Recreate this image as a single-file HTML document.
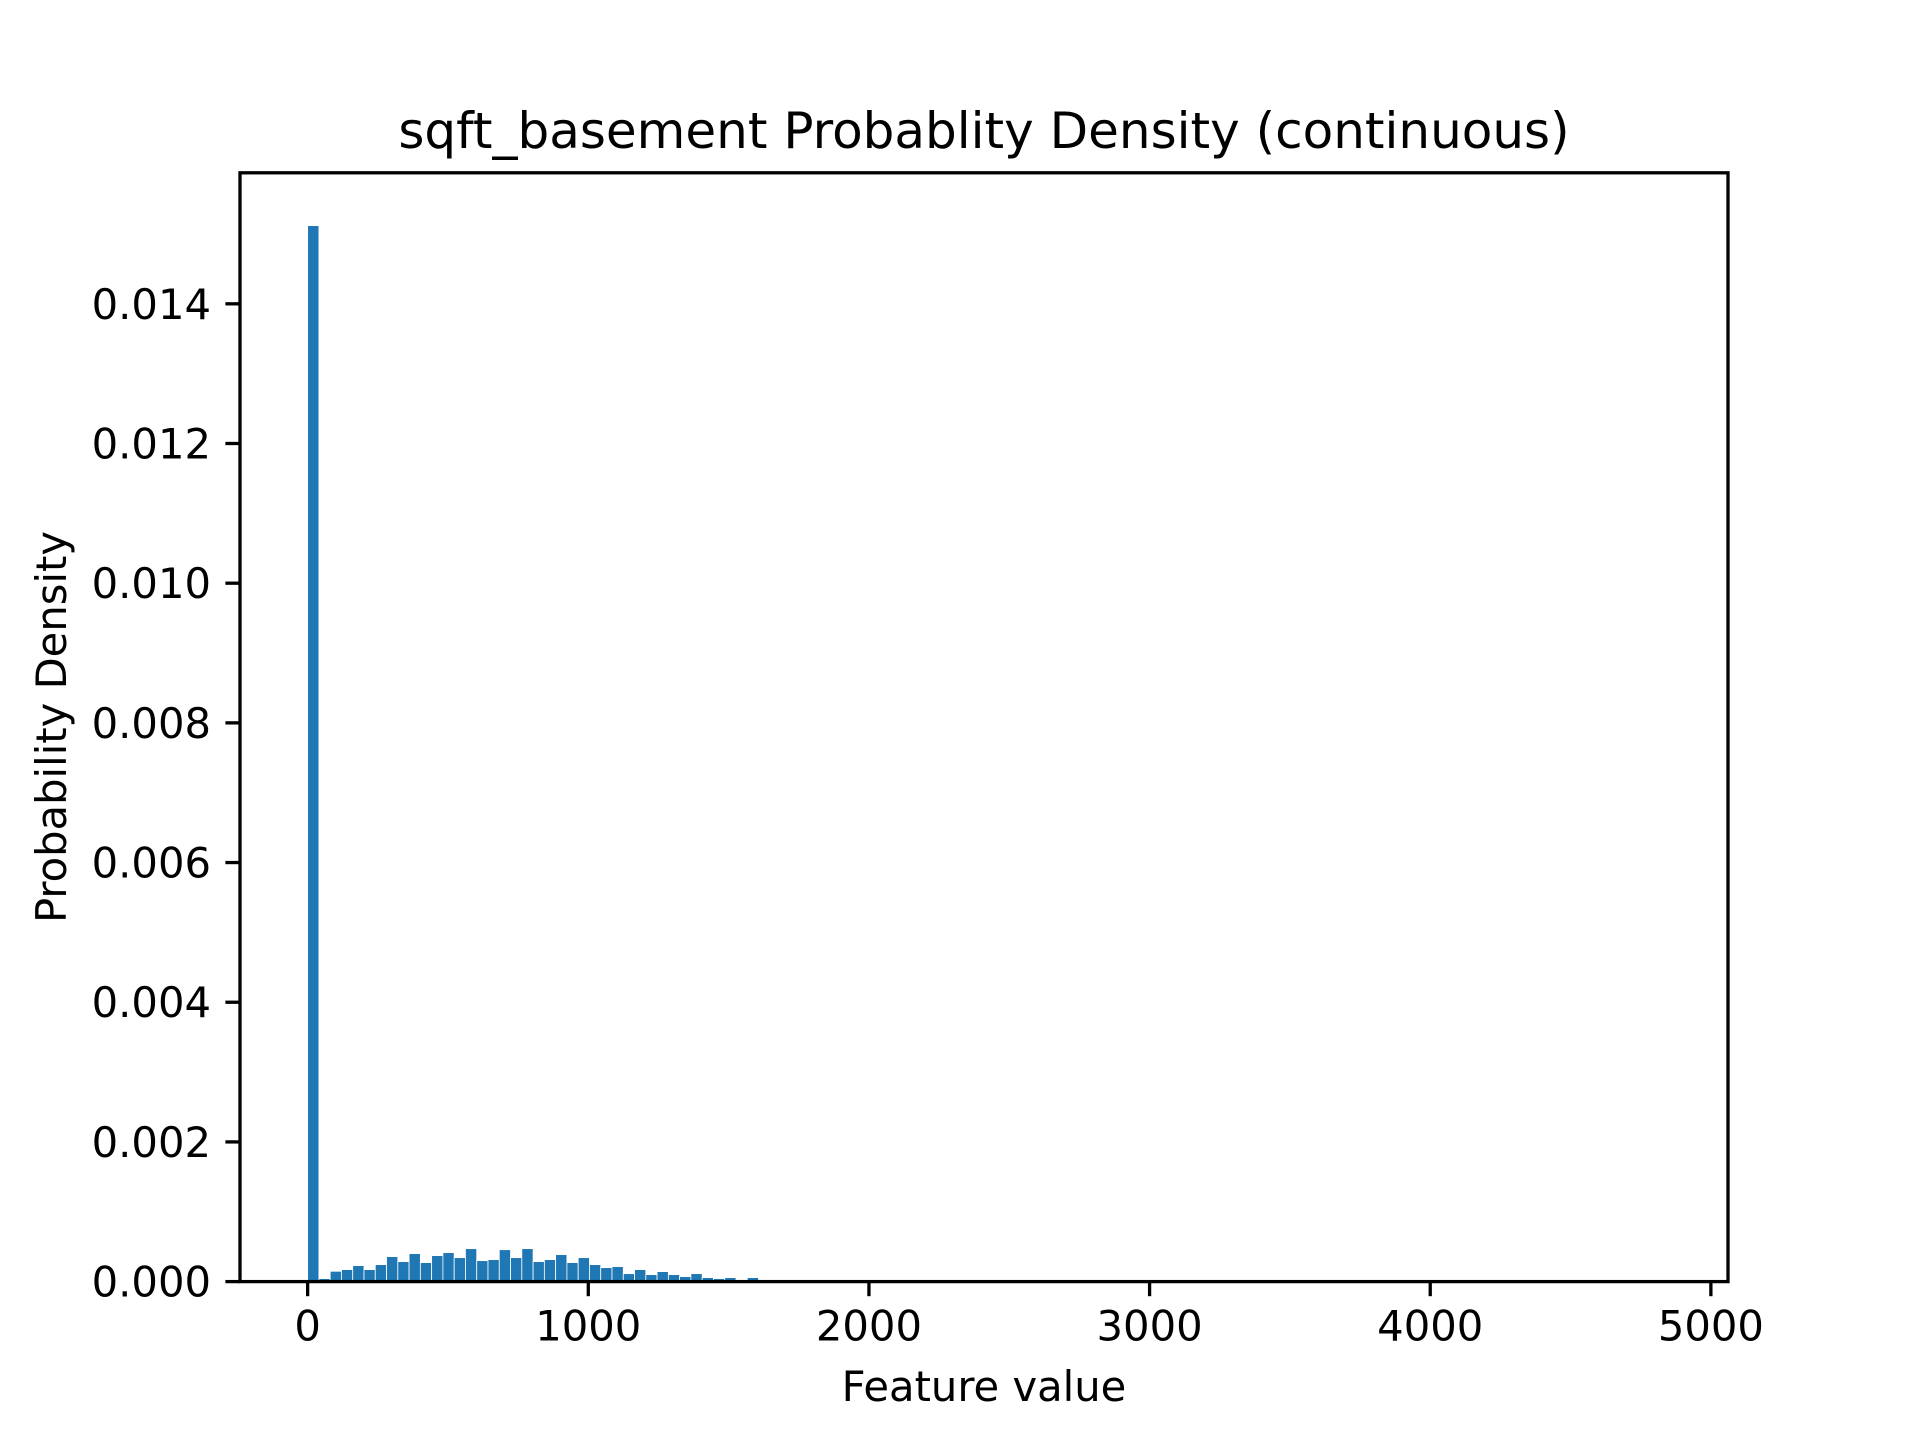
<!DOCTYPE html>
<html><head><meta charset="utf-8"><style>
html,body{margin:0;padding:0;background:#fff;}
svg text{font-family:"DejaVu Sans","Liberation Sans",sans-serif;fill:#000;}
</style></head><body>
<svg id="chart" width="1920" height="1440" viewBox="0 0 1920 1440" xmlns="http://www.w3.org/2000/svg">
<rect width="1920" height="1440" fill="#fff"/>
<text x="984" y="148" font-size="50" text-anchor="middle">sqft_basement Probablity Density (continuous)</text>
<g id="bars"></g>
<g id="axes"></g>
<text x="984" y="1401" font-size="41.7" text-anchor="middle">Feature value</text>
<text x="0" y="0" font-size="41.7" text-anchor="middle" transform="translate(66,727) rotate(-90)">Probability Density</text>
</svg>
<script>
const binStart = 0;
const binWidth = 40.1667;
const densities = [0.01512,0.000043,0.000148,0.000172,0.000229,0.000172,0.000243,0.000358,0.000286,0.000401,
0.000272,0.000372,0.000415,0.000343,0.000472,0.0003,0.000315,0.000457,0.000343,0.000472,
0.000286,0.000315,0.000387,0.000272,0.000343,0.000243,0.0002,0.000215,0.000114,0.000172,
0.0001,0.000143,0.0001,0.000072,0.000114,0.000057,0.000043,0.000057,0.000029,0.000057,
0.000014,0.000029,0.000029,0.000014,0.000029,0.000007,0.000014,0.000007,0.000003,0.000007,
0.000003,0,0.000003,0,0,0.000003,0,0,0,0.000003,
0,0,0,0,0,0,0,0,0,0,
0,0,0,0,0,0,0,0,0,0,
0,0,0,0,0,0,0,0,0,0,
0,0,0,0,0,0,0,0,0,0,
0,0,0,0,0,0,0,0,0,0,
0,0,0,0,0,0,0,0,0,0.000003];
const xTicks = [0,1000,2000,3000,4000,5000];
const xTickLabels = ["0","1000","2000","3000","4000","5000"];
const yTicks = [0,0.002,0.004,0.006,0.008,0.010,0.012,0.014];
const yTickLabels = ["0.000","0.002","0.004","0.006","0.008","0.010","0.012","0.014"];

const L=240,R=1728,T=172.8,B=1281.6;
const dataMax = binStart + binWidth*densities.length;
const xMin = binStart-(dataMax-binStart)*0.05, xMax = dataMax+(dataMax-binStart)*0.05;
const yMax = Math.max(...densities)*1.05;
const xs = v => L+(v-xMin)/(xMax-xMin)*(R-L);
const ys = v => B-(v/yMax)*(B-T);
const NS="http://www.w3.org/2000/svg";
const bars=document.getElementById('bars'), axes=document.getElementById('axes');
densities.forEach((d,i)=>{
  if(d<=0) return;
  const x0=xs(binStart+i*binWidth), x1=xs(binStart+(i+1)*binWidth);
  const r=document.createElementNS(NS,'rect');
  r.setAttribute('x',x0);r.setAttribute('y',ys(d));
  r.setAttribute('width',x1-x0);r.setAttribute('height',B-ys(d));
  r.setAttribute('fill','#1f77b4');r.setAttribute('stroke','#fff');r.setAttribute('stroke-width','0.8');
  
  
  bars.appendChild(r);
});
function el(tag,attrs){const e=document.createElementNS(NS,tag);for(const k in attrs)e.setAttribute(k,attrs[k]);return e;}
xTicks.forEach((t,i)=>{
  const x=xs(t);
  const ln=el('line',{x1:x,x2:x,y1:B,y2:B+14.6,stroke:'#000','stroke-width':3.3});
  
  
  axes.appendChild(ln);
  const tx=el('text',{x:x,y:B+59,'font-size':41.7,'text-anchor':'middle'});
  tx.textContent=xTickLabels[i];
  
  
  axes.appendChild(tx);
});
yTicks.forEach((t,i)=>{
  const y=ys(t);
  const ln=el('line',{x1:L-14.6,x2:L,y1:y,y2:y,stroke:'#000','stroke-width':3.3});
  
  
  axes.appendChild(ln);
  const tx=el('text',{x:L-29,y:y+15,'font-size':41.7,'text-anchor':'end'});
  tx.textContent=yTickLabels[i];
  
  
  axes.appendChild(tx);
});
const frame=el('rect',{x:L,y:T,width:R-L,height:B-T,fill:'none',stroke:'#000','stroke-width':3.3});


axes.appendChild(frame);
</script>
</body></html>
